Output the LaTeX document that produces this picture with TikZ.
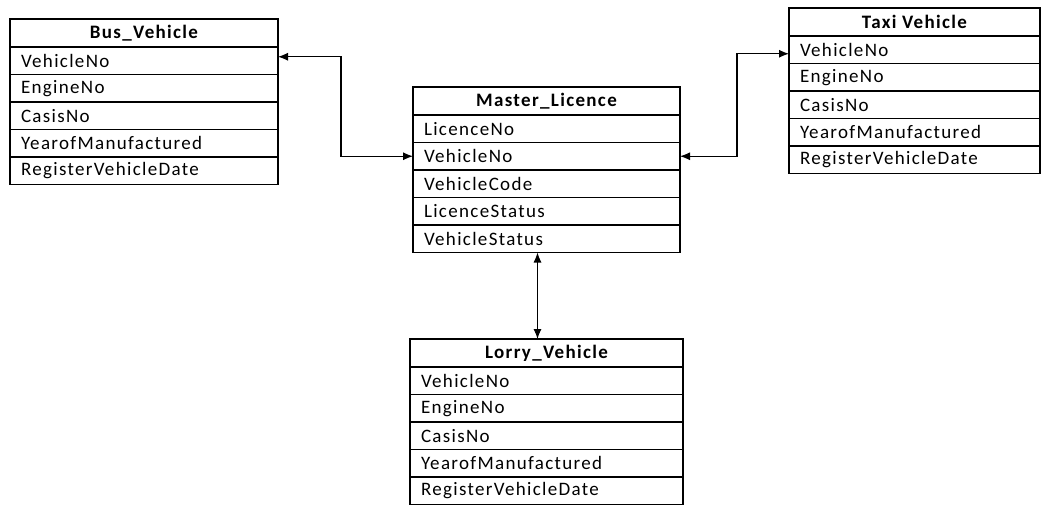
\documentclass[tikz,border=0pt]{standalone}
\usepackage{fontspec}
\setmainfont{Carlito}[LetterSpace=7]
\usepackage{tikz}
\usetikzlibrary{positioning,arrows.meta}

\tikzset{
  tblhead/.style={draw, line width=1.1pt, outer sep=0pt, inner sep=0pt, minimum width=#1, minimum height=28, font=\fontsize{19}{22}\selectfont\bfseries},
  tblrow/.style={draw, line width=1.1pt, outer sep=0pt, inner xsep=11pt, inner ysep=0pt, text width=#1, minimum height=27.5, align=left, font=\fontsize{19}{22}\selectfont},
  link/.style={line width=1.1pt, {Latex[length=10pt,width=8pt]}-{Latex[length=10pt,width=8pt]}}
}

\begin{document}
\begin{tikzpicture}[x=1pt, y=-1pt]
        \useasboundingbox (0,0) rectangle (1042,506);

        % Bus_Vehicle
        \node [tblhead=268, anchor=north west] (bushead) at (10,19) {Bus\_Vehicle};
        \node [tblrow=246, below=0pt of bushead] (busr1) {VehicleNo};             %
        \node [tblrow=246, below=0pt of busr1]   (busr2) {EngineNo};              %
        \node [tblrow=246, below=0pt of busr2]   (busr3) {CasisNo};               %
        \node [tblrow=246, below=0pt of busr3]   (busr4) {YearofManufactured};    %
        \node [tblrow=246, below=0pt of busr4]   (busr5) {RegisterVehicleDate};   %

        % Master_Licence
        \node [tblhead=267, anchor=north west] (mhead) at (413,87) {Master\_Licence};
        \node [tblrow=245, below=0pt of mhead] (mr1) {LicenceNo};                 %
        \node [tblrow=245, below=0pt of mr1]   (mr2) {VehicleNo};                 %
        \node [tblrow=245, below=0pt of mr2]   (mr3) {VehicleCode};               %
        \node [tblrow=245, below=0pt of mr3]   (mr4) {LicenceStatus};             %
        \node [tblrow=245, below=0pt of mr4]   (mr5) {VehicleStatus};             %

        % Taxi Vehicle
        \node [tblhead=251, anchor=north west] (taxihead) at (789,8) {Taxi Vehicle};
        \node [tblrow=229, below=0pt of taxihead] (taxir1) {VehicleNo};           %
        \node [tblrow=229, below=0pt of taxir1]   (taxir2) {EngineNo};            %
        \node [tblrow=229, below=0pt of taxir2]   (taxir3) {CasisNo};             %
        \node [tblrow=229, below=0pt of taxir3]   (taxir4) {YearofManufactured};  %
        \node [tblrow=229, below=0pt of taxir4]   (taxir5) {RegisterVehicleDate}; %

        % Lorry_Vehicle
        \node [tblhead=273, anchor=north west] (lhead) at (410,339) {Lorry\_Vehicle};
        \node [tblrow=251, below=0pt of lhead] (lr1) {VehicleNo};                 %
        \node [tblrow=251, below=0pt of lr1]   (lr2) {EngineNo};                  %
        \node [tblrow=251, below=0pt of lr2]   (lr3) {CasisNo};                   %
        \node [tblrow=251, below=0pt of lr3]   (lr4) {YearofManufactured};        %
        \node [tblrow=251, below=0pt of lr4]   (lr5) {RegisterVehicleDate};       %

        % links
        \draw [link] ([yshift=4pt]busr1.east) -- ++(63,0) |- (mr2.west);         %
        \draw [link] (mr2.east) -- ++(57,0) |- ([yshift=-4pt]taxir1.west);        %
        \draw [link] ([xshift=-9pt]mr5.south) -- ([xshift=-9pt]lhead.north);      %
\end{tikzpicture}
\end{document}
